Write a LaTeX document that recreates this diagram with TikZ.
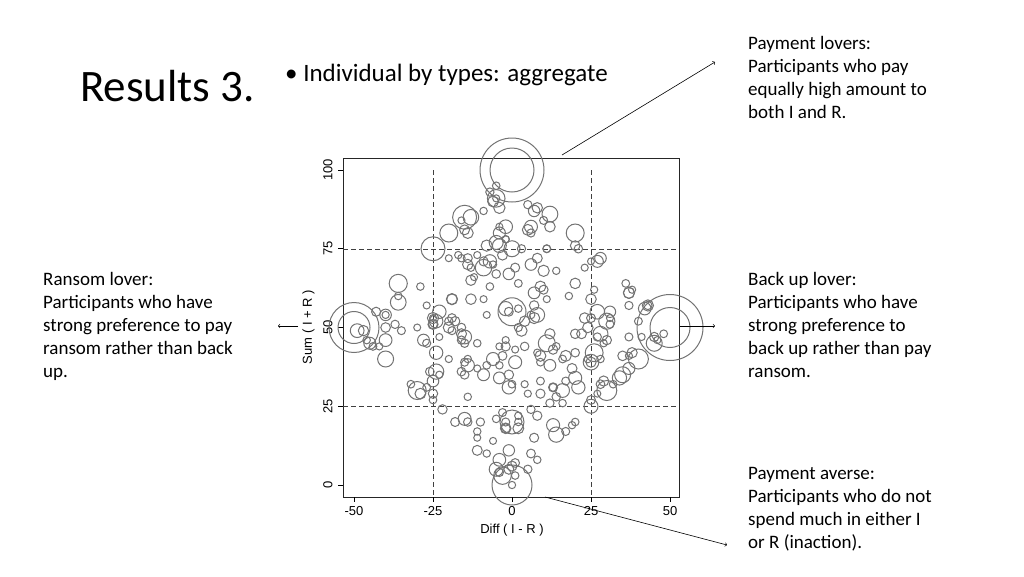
\documentclass[tikz,border=0pt]{standalone}
\usepackage{fontspec}
\setmainfont{Carlito}
\newfontfamily\axfont{Liberation Sans}
\begin{document}
\begin{tikzpicture}[x=1pt,y=-1pt,
  bub/.style={draw=black!55,line width=1pt},
  side/.style={anchor=north west,align=left,font=\fontsize{19}{23}\selectfont,inner sep=0pt},
  guide/.style={dash pattern=on 5pt off 3pt,black!75,line width=0.9pt},
  tk/.style={font=\axfont\fontsize{13}{13}\selectfont}]
\useasboundingbox (0,0) rectangle (1024,576);
\node[anchor=west,font=\fontsize{45}{45}\selectfont,inner sep=0pt] (title) at (80,86) {Results 3.};
\node[anchor=west,font=\fontsize{25}{25}\selectfont,inner sep=0pt] (bullet) at (285,75) {\textbullet\ Individual by types: aggregate};
% plot frame
\draw[black!85,line width=0.9pt] (343,158) rectangle (679,497);
\draw[guide] (433,170) -- (433,497);
\draw[guide] (591,170) -- (591,497);
\draw[guide] (343,249) -- (679,249);
\draw[guide] (343,406) -- (679,406);
\foreach \v/\l in {0/-50,1/-25,2/0,3/25,4/50}{
  \draw[line width=0.8pt] (354+79*\v,497) -- (354+79*\v,502);
  \node[tk,anchor=north] at (354+79*\v,503) {\l};
  \draw[line width=0.8pt] (343,485-78.75*\v) -- (338,485-78.75*\v);
  \pgfmathtruncatemacro\yl{25*\v}
  \node[tk,anchor=south,rotate=90] at (336,485-78.75*\v) {\yl};
}
\node[tk,anchor=north] (xl) at (512,521) {Diff ( I - R )};
\node[tk,anchor=south,rotate=90] (yl) at (318,327) {Sum ( I + R )};
% bubbles
\pgfmathsetseed{11}
\foreach \k in {1,...,260}{
  \pgfmathsetmacro\I{int(rnd*51)}
  \pgfmathsetmacro\R{int(rnd*51)}
  \pgfmathsetmacro\rr{3.5+rnd*rnd*6}
  \draw[bub] ({512+3.16*(\I-\R)},{485-3.15*(\I+\R)}) circle (\rr);
}
\foreach \d/\s/\rr in {0/100/32,0/100/22,-50/50/25,-50/50/16,50/50/33,50/50/20,0/0/20,-15/85/12,-20/80/9,-25/75/12,-40/40/8,-45/45/6,40/40/10,45/45/8,35/35/8,30/30/10,25/25/7,-30/30/9,-5/5/7,0/55/14,0/75/8,20/80/9,0/20/12}{
  \draw[bub] ({512+3.16*\d},{485-3.15*\s}) circle (\rr);
}
% annotations
\node[side] (pl) at (748,36) {Payment lovers:\\Participants who pay\\equally high amount to\\both I and R.};
\node[side] (rl) at (43,272) {Ransom lover:\\Participants who have\\strong preference to pay\\ransom rather than back\\up.};
\node[side] (bl) at (748,272) {Back up lover:\\Participants who have\\strong preference to\\back up rather than pay\\ransom.};
\node[side] (pa) at (748,467) {Payment averse:\\Participants who do not\\spend much in either I\\or R (inaction).};
\coordinate (a1) at (562,155); \coordinate (a1e) at (715,62);
\coordinate (a2) at (298,326); \coordinate (a2e) at (278,326);
\coordinate (a3) at (680,326); \coordinate (a3e) at (715,326);
\coordinate (a4) at (545,497); \coordinate (a4e) at (727,545);
\foreach \a/\b in {a1/a1e,a2/a2e,a3/a3e,a4/a4e}
  \draw[->,line width=0.6pt] (\a) -- (\b);
\end{tikzpicture}
\end{document}
